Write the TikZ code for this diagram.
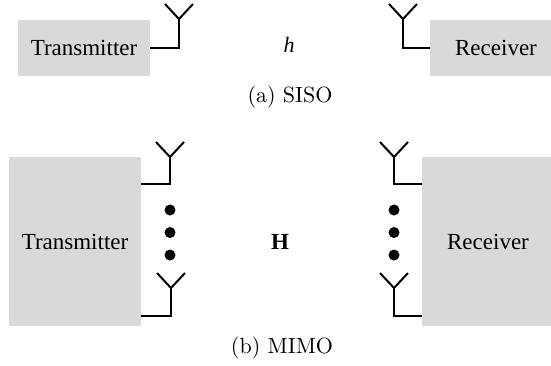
\documentclass[tikz,border=0pt]{standalone}
\usepackage{fontspec}
\setmainfont{Liberation Serif}
\newfontfamily\lmr{Latin Modern Roman}
\begin{document}
\begin{tikzpicture}[x=0.5pt,y=-0.5pt,
  box/.style={fill=boxgray,draw=none,inner sep=0pt,minimum width=66pt,
    font=\fontsize{11.5}{14}\selectfont},
  wire/.style={line width=1pt,line join=miter},
  dotc/.style={circle,fill=black,inner sep=0pt,minimum size=5.5pt},
  captext/.style={font=\lmr\fontsize{11}{13}\selectfont,inner sep=0pt}]
\definecolor{boxgray}{HTML}{D9D9D9}
\useasboundingbox (0,0) rectangle (551,365);
\clip (0,0) rectangle (551,365);
% ---------- SISO ----------
\node[box,minimum height=28pt] (txa) at (84,48) {Transmitter};
\node[box,minimum height=28pt] (rxa) at (496,48) {Receiver};
\coordinate (ta) at (179,48);
\coordinate (tas) at (179,19);
\coordinate (tal) at (165,4);
\coordinate (tar) at (193,4);
\draw[wire] (txa.east) -- (ta) -- (tas);
\draw[wire] (tal) -- (tas) -- (tar);
\coordinate (ra) at (403,48);
\coordinate (ras) at (403,19);
\coordinate (ral) at (389,4);
\coordinate (rar) at (417,4);
\draw[wire] (rxa.west) -- (ra) -- (ras);
\draw[wire] (ral) -- (ras) -- (rar);
\node[font=\itshape\fontsize{11}{13}\selectfont] (h) at (289,45) {h};
\node[captext] (capa) at (290,97) {(a) SISO};
% ---------- MIMO ----------
\node[box,minimum height=84.5pt] (txb) at (75,241.5) {Transmitter};
\node[box,minimum height=84.5pt] (rxb) at (488,241.5) {Receiver};
% transmitter antennas
\coordinate (tb1) at (170,184);
\coordinate (tb1s) at (170,157);
\coordinate (tb1l) at (156,142);
\coordinate (tb1r) at (184,142);
\draw[wire] (txb.east |- tb1) -- (tb1) -- (tb1s);
\draw[wire] (tb1l) -- (tb1s) -- (tb1r);
\coordinate (tb2) at (171,316);
\coordinate (tb2s) at (171,288);
\coordinate (tb2l) at (157,273);
\coordinate (tb2r) at (185,273);
\draw[wire] (txb.east |- tb2) -- (tb2) -- (tb2s);
\draw[wire] (tb2l) -- (tb2s) -- (tb2r);
\node[dotc] (td1) at (170,210) {};
\node[dotc] (td2) at (170,232.5) {};
\node[dotc] (td3) at (170,255) {};
% receiver antennas
\coordinate (rb1) at (394,184);
\coordinate (rb1s) at (394,157);
\coordinate (rb1l) at (380,142);
\coordinate (rb1r) at (408,142);
\draw[wire] (rxb.west |- rb1) -- (rb1) -- (rb1s);
\draw[wire] (rb1l) -- (rb1s) -- (rb1r);
\coordinate (rb2) at (394,316);
\coordinate (rb2s) at (394,288);
\coordinate (rb2l) at (380,273);
\coordinate (rb2r) at (408,273);
\draw[wire] (rxb.west |- rb2) -- (rb2) -- (rb2s);
\draw[wire] (rb2l) -- (rb2s) -- (rb2r);
\node[dotc] (rd1) at (394,210) {};
\node[dotc] (rd2) at (394,232.5) {};
\node[dotc] (rd3) at (394,255) {};
\node[font=\bfseries\fontsize{11.5}{14}\selectfont] (H) at (280,242) {H};
\node[captext] (capb) at (282,348) {(b) MIMO};
\end{tikzpicture}
\end{document}
